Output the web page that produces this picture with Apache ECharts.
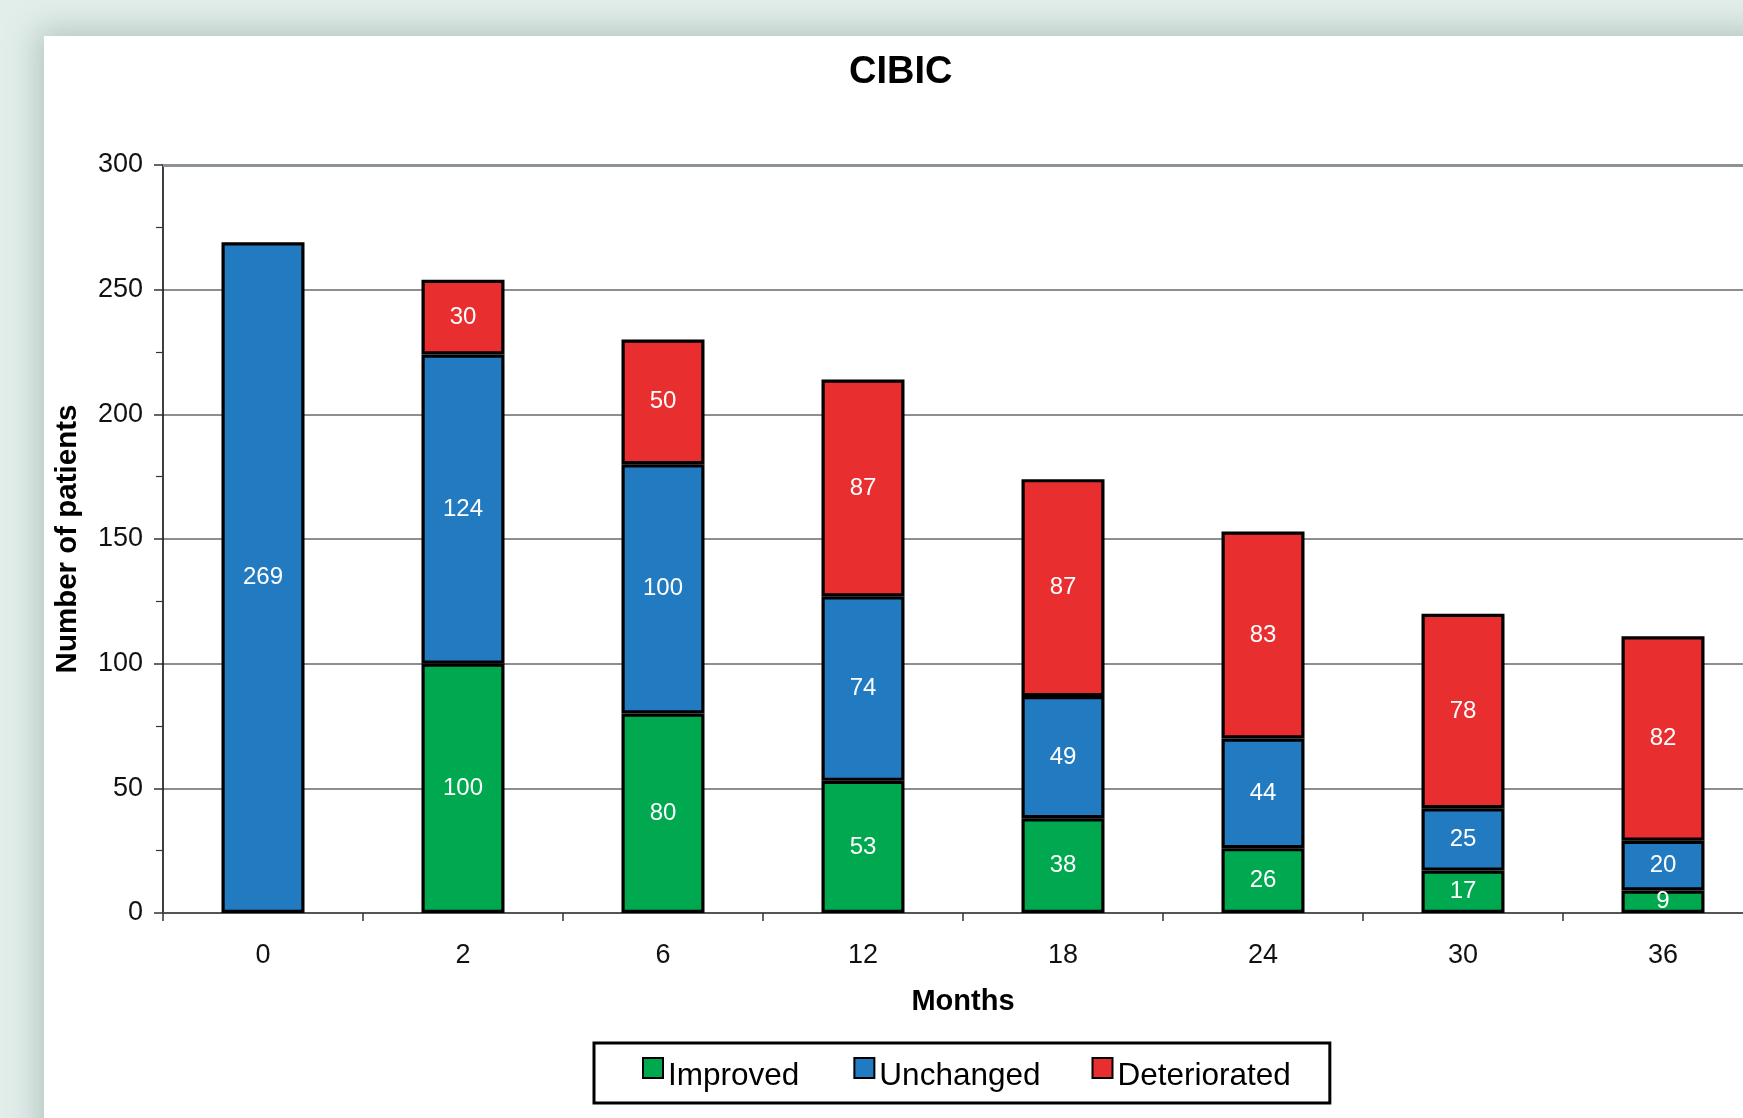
<!DOCTYPE html>
<html>
<head>
<meta charset="utf-8">
<script src="https://cdn.jsdelivr.net/npm/echarts@6/dist/echarts.min.js"></script>
<style>
  html, body { margin: 0; padding: 0; width: 1743px; height: 1118px; overflow: hidden; background: #e2eeea; }
  #panel { position: absolute; left: 44px; top: 36px; width: 1760px; height: 1150px; background: #ffffff;
           box-shadow: 0 0 30px 6px rgba(90,120,110,0.35); }
  #chart { position: absolute; left: 0; top: 0; width: 1763px; height: 1118px; }
</style>
</head>
<body>
<div id="panel"></div>
<div id="chart"></div>
<script>
const months = ['0', '2', '6', '12', '18', '24', '30', '36'];
const improved = [null, 100, 80, 53, 38, 26, 17, 9];
const unchanged = [269, 124, 100, 74, 49, 44, 25, 20];
const deteriorated = [null, 30, 50, 87, 87, 83, 78, 82];
const yTicks = { min: 0, max: 300, interval: 50 };

const FONT = '"Liberation Sans", Arial, Helvetica, sans-serif';
const chart = echarts.init(document.getElementById('chart'), null, { renderer: 'canvas' });

function barSeries(name, data, color, extra) {
  return Object.assign({
    name: name,
    type: 'bar',
    stack: 'total',
    barWidth: 83,
    data: data,
    itemStyle: { color: color, borderColor: '#000', borderWidth: 3.2 },
    label: { show: true, position: 'inside', color: '#fff', fontSize: 24, fontFamily: FONT },
    emphasis: { disabled: true }
  }, extra || {});
}

chart.setOption({
  animation: false,
  backgroundColor: 'transparent',
  textStyle: { fontFamily: FONT },
  title: {
    text: 'CIBIC',
    left: 849,
    top: 54,
    padding: 0,
    textStyle: { fontSize: 38, fontWeight: 'bold', color: '#000', fontFamily: FONT }
  },
  legend: {
    data: ['Improved', 'Unchanged', 'Deteriorated'],
    left: 594,
    top: 1043,
    orient: 'horizontal',
    itemWidth: 20,
    itemHeight: 20,
    itemGap: 51,
    icon: 'rect',
    padding: [14, 39, 11, 48],
    borderColor: '#000',
    borderWidth: 3,
    formatter: function (name) {
      return name === 'Improved' ? '{t|' + name + '}{s| }' : '{t|' + name + '}';
    },
    textStyle: {
      color: '#000', fontFamily: FONT, fontSize: 31.5,
      rich: {
        t: { fontSize: 31.5, color: '#000', fontFamily: FONT, padding: [16, 0, 0, 0] },
        s: { fontSize: 11, fontFamily: FONT, padding: [16, 0, 0, 0] }
      }
    }
  },
  grid: { left: 163, top: 165, width: 1600, bottom: 205, containLabel: false },
  xAxis: {
    type: 'category',
    data: months,
    name: 'Months',
    nameLocation: 'middle',
    nameGap: 74,
    nameTextStyle: { fontSize: 29, fontWeight: 'bold', color: '#000', fontFamily: FONT },
    axisLine: { lineStyle: { color: '#555', width: 2 } },
    axisTick: { show: true, alignWithLabel: false, length: 8, lineStyle: { color: '#333', width: 1.5 } },
    axisLabel: { fontSize: 27, color: '#111', margin: 29, fontFamily: FONT },
    splitLine: { show: false }
  },
  yAxis: {
    type: 'value',
    min: yTicks.min,
    max: yTicks.max,
    interval: yTicks.interval,
    name: 'Number of patients',
    nameLocation: 'middle',
    nameGap: 80,
    nameTextStyle: { fontSize: 29.5, fontWeight: 'bold', color: '#000', fontFamily: FONT },
    axisLine: { show: true, lineStyle: { color: '#000', width: 1.5 } },
    axisTick: { show: true, inside: false, length: 9, lineStyle: { color: '#333', width: 1.5 } },
    minorTick: { show: true, splitNumber: 2, length: 7, lineStyle: { color: '#333', width: 1.2 } },
    axisLabel: { fontSize: 27, color: '#111', margin: 20, fontFamily: FONT },
    splitLine: { show: true, lineStyle: { color: '#8f8f8f', width: 2 } }
  },
  series: [
    barSeries('Improved', improved, '#00a84f'),
    barSeries('Unchanged', unchanged, '#227ac0', {
      markLine: {
        silent: true,
        symbol: 'none',
        label: { show: false },
        lineStyle: { color: '#8c9298', width: 3, type: 'solid' },
        data: [{ yAxis: yTicks.max }]
      }
    }),
    barSeries('Deteriorated', deteriorated, '#e92e30')
  ]
});
</script>
</body>
</html>
